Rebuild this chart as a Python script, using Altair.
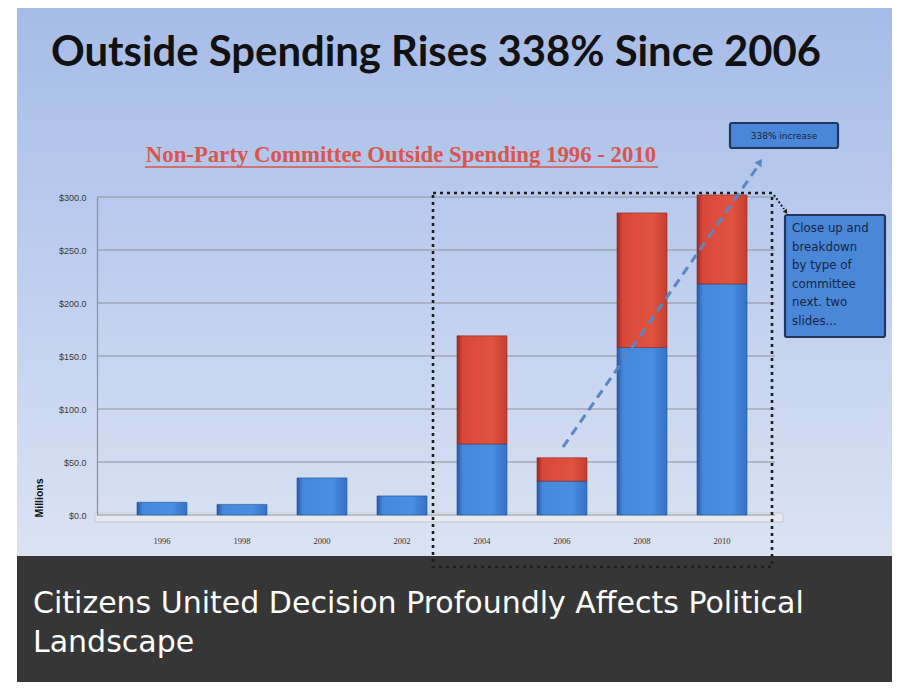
import altair as alt
import pandas as pd

# ---- data ----
years = ["1996", "1998", "2000", "2002", "2004", "2006", "2008", "2010"]
blue_vals = [12, 10, 35, 18, 67, 32, 158, 218]
red_vals = [0, 0, 0, 0, 102, 22, 127, 84]
y_ticks = [0, 50, 100, 150, 200, 250, 300]

title_text = "Outside Spending Rises 338% Since 2006"
subtitle_text = "Non-Party Committee Outside Spending 1996 - 2010"
box1_text = "338% increase"
box2_lines = ["Close up and", "breakdown", "by type of", "committee", "next. two", "slides..."]
caption_lines = ["Citizens United Decision Profoundly Affects Political", "Landscape"]

df = pd.DataFrame({"year": years, "blue": blue_vals, "red": red_vals})
df["total"] = df["blue"] + df["red"]
df_red = df[df["red"] > 0]
grid_df = pd.DataFrame({"v": y_ticks})
one = pd.DataFrame({"k": [0]})

W, H = 690, 318

xs = alt.Scale(domain=years, paddingInner=0.375, paddingOuter=0.5)
ys = alt.Scale(domain=[0, 300], nice=False)

yaxis = alt.Axis(values=y_ticks, format="$.1f", grid=False, ticks=False,
                 domainColor="#8e949c", domainWidth=1.3, labelFontSize=9,
                 labelColor="#3a3a3a", labelFont="Liberation Sans", labelPadding=11,
                 title="Millions", titleFontSize=10.5, titleFont="Liberation Sans",
                 titleFontWeight="bold", titleColor="#111", titleX=-53, titleY=320,
                 titleAnchor="start", titleAngle=270, zindex=1)
xaxis = alt.Axis(domain=False, ticks=False, labelFontSize=8.5, labelColor="#333",
                 labelFont="Liberation Serif", labelPadding=21, title=None,
                 labelAngle=0, zindex=1)

slide_grad = alt.Gradient(gradient="linear", x1=0, x2=0, y1=0, y2=1,
                          stops=[alt.GradientStop(color="#a6bce7", offset=0),
                                 alt.GradientStop(color="#bccdee", offset=0.45),
                                 alt.GradientStop(color="#dbe3f3", offset=1)])

bg = alt.Chart(one).mark_rect(color=slide_grad).encode(
    x=alt.value(-80), x2=alt.value(795), y=alt.value(-190), y2=alt.value(359))
band = alt.Chart(one).mark_rect(color="#363636").encode(
    x=alt.value(-80), x2=alt.value(795), y=alt.value(359), y2=alt.value(500))

floor = alt.Chart(one).mark_rect(color="#e6eaf0", stroke="#c3c9d3", strokeWidth=1).encode(
    x=alt.value(-2), x2=alt.value(686), y=alt.value(316), y2=alt.value(325))

grid = alt.Chart(grid_df).mark_rule(color="#8e949c", strokeWidth=1.2).encode(
    y=alt.Y("v:Q", scale=ys, axis=yaxis), x=alt.value(0), x2=alt.value(678))

blue_grad = alt.Gradient(gradient="linear", x1=0, x2=1, y1=0, y2=0,
                         stops=[alt.GradientStop(color="#2a5aa6", offset=0),
                                alt.GradientStop(color="#4589dc", offset=0.12),
                                alt.GradientStop(color="#4a8ee0", offset=0.7),
                                alt.GradientStop(color="#3572c8", offset=1)])
red_grad = alt.Gradient(gradient="linear", x1=0, x2=1, y1=0, y2=0,
                        stops=[alt.GradientStop(color="#9c2a22", offset=0),
                               alt.GradientStop(color="#d9483a", offset=0.12),
                               alt.GradientStop(color="#e0533f", offset=0.7),
                               alt.GradientStop(color="#c63e30", offset=1)])

bars_blue = alt.Chart(df).mark_bar(color=blue_grad, stroke="#24508f", strokeWidth=0.6).encode(
    x=alt.X("year:N", scale=xs, axis=xaxis, sort=years),
    y=alt.Y("blue:Q", scale=ys, axis=yaxis),
)
bars_red = alt.Chart(df_red).mark_bar(color=red_grad, stroke="#8a2a22", strokeWidth=0.6).encode(
    x=alt.X("year:N", scale=xs, axis=xaxis, sort=years),
    y=alt.Y("blue:Q", scale=ys, axis=yaxis),
    y2="total:Q",
)

title = alt.Chart(one).mark_text(text=title_text, font="Lato", fontWeight="bold",
                                 fontSize=41.8, color="#111111", align="left",
                                 baseline="alphabetic").encode(
    x=alt.value(-46), y=alt.value(-131))

subtitle = alt.Chart(one).mark_text(text=subtitle_text, font="Liberation Serif",
                                    fontWeight="bold", fontSize=22.8, color="#d9564e",
                                    align="center", baseline="alphabetic").encode(
    x=alt.value(304), y=alt.value(-35))
underline = alt.Chart(one).mark_rule(color="#d9564e", strokeWidth=1.5).encode(
    x=alt.value(48), x2=alt.value(561), y=alt.value(-30))

box1 = alt.Chart(one).mark_rect(color="#4a87d9", stroke="#22385a", strokeWidth=2.2,
                                cornerRadius=2).encode(
    x=alt.value(633), x2=alt.value(741), y=alt.value(-74), y2=alt.value(-49))
box1_t = alt.Chart(one).mark_text(text=box1_text, font="DejaVu Sans", fontSize=9,
                                  color="#17263f", align="center", baseline="middle").encode(
    x=alt.value(687), y=alt.value(-61.5))

box2 = alt.Chart(one).mark_rect(color="#4a87d9", stroke="#22385a", strokeWidth=2.2,
                                cornerRadius=2).encode(
    x=alt.value(688), x2=alt.value(788), y=alt.value(18), y2=alt.value(140))
box2_t = alt.Chart(one).mark_text(text=box2_lines, font="DejaVu Sans", fontSize=11.8,
                                  color="#17263f", align="left", baseline="top",
                                  lineHeight=18.5).encode(
    x=alt.value(695), y=alt.value(26))

dotted_box = alt.Chart(one).mark_rect(fillOpacity=0, stroke="#1e1e1e", strokeWidth=2.6,
                                      strokeDash=[3, 4]).encode(
    x=alt.value(336), x2=alt.value(675), y=alt.value(-4), y2=alt.value(370))

arrow = alt.Chart(one).mark_rule(color="#5a86c3", strokeWidth=3, strokeDash=[9, 6]).encode(
    x=alt.value(466), y=alt.value(250), x2=alt.value(661), y2=alt.value(-31))
arrow_head = alt.Chart(one).mark_point(shape="triangle-up", filled=True, color="#5a86c3",
                                       size=70, angle=35, opacity=1).encode(
    x=alt.value(663), y=alt.value(-35))

conn = alt.Chart(one).mark_rule(color="#1e1e1e", strokeWidth=2, strokeDash=[2, 2]).encode(
    x=alt.value(677), y=alt.value(-2), x2=alt.value(687), y2=alt.value(12))
conn_head = alt.Chart(one).mark_point(shape="triangle-up", filled=True, color="#1e1e1e",
                                      size=25, angle=145, opacity=1).encode(
    x=alt.value(689), y=alt.value(15))

caption = alt.Chart(one).mark_text(text=caption_lines, font="DejaVu Sans", fontSize=30,
                                   color="#ffffff", align="left", baseline="alphabetic",
                                   lineHeight=39).encode(
    x=alt.value(-64), y=alt.value(416))

chart = alt.layer(
    bg, band, floor, grid, bars_blue, bars_red, arrow, arrow_head,
    title, subtitle, underline, box1, box1_t, box2, box2_t, dotted_box,
    conn, conn_head, caption,
).properties(
    width=W, height=H,
    autosize=alt.AutoSizeParams(type="none"),
    padding={"left": 89, "top": 189, "right": 111, "bottom": 167},
    background="#ffffff",
).configure_view(stroke=None)

chart.save("out.html", embed_options={"renderer": "svg", "actions": False})
